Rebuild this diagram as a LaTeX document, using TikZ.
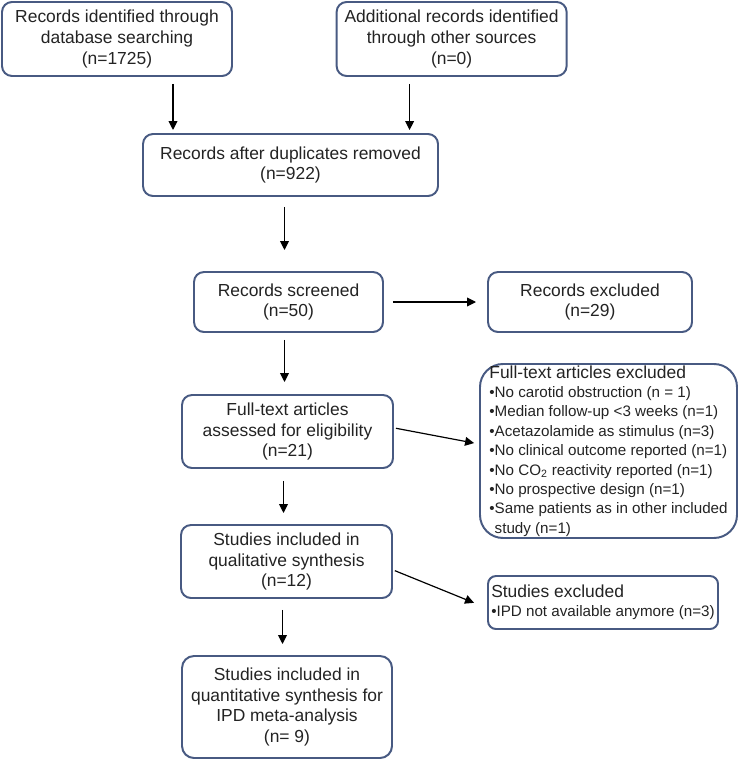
\documentclass[tikz,border=0pt]{standalone}
\usepackage{fontspec}
\setmainfont{Liberation Sans}
\usetikzlibrary{arrows.meta}

\definecolor{boxline}{RGB}{72,90,130}
\definecolor{inktext}{RGB}{35,35,35}

\tikzset{
    box/.style={draw=boxline, line width=1.4pt, rounded corners=0.25cm, align=center, inner sep=0pt, text=inktext, font=\fontsize{12.4}{14.8}\selectfont},
    listbox/.style={box, align=left, font=\fontsize{10.8}{13.8}\selectfont},
}
\tikzset{arr/.style={line width=0.85pt, -{Triangle[length=0.225cm,width=0.22cm]}}}
\newcommand{\listtitle}{\fontsize{12.4}{13.8}\selectfont}

\begin{document}
\begin{tikzpicture}
        \useasboundingbox (0, 0) rectangle (18.5, -19.025);

        \node[box, minimum width=5.75cm, minimum height=1.85cm] (dbrec) at (2.925, -0.975) {Records identified through\\database searching\\(n=1725)};
        \node[box, minimum width=5.75cm, minimum height=1.85cm] (otherrec) at (11.29, -0.975) {Additional records identified\\through other sources\\(n=0)};
        \node[box, minimum width=7.375cm, minimum height=1.55cm] (dedup) at (7.2625, -4.125) {Records after duplicates removed\\(n=922)};
        \node[box, minimum width=4.725cm, minimum height=1.5cm] (screen) at (7.2125, -7.55) {Records screened\\(n=50)};
        \node[box, minimum width=5.1cm, minimum height=1.5cm] (recex) at (14.75, -7.55) {Records excluded\\(n=29)};
        \node[box, minimum width=5.275cm, minimum height=1.825cm] (fulltext) at (7.1875, -10.7875) {Full-text articles\\assessed for eligibility\\(n=21)};
        \node[listbox, rounded corners=0.575cm, minimum width=6.425cm, minimum height=4.35cm] (ftex) at (15.2125, -11.275) {\listtitle Full-text articles excluded\\
            \textbullet No carotid obstruction (n = 1)\\
            \textbullet Median follow-up <3 weeks (n=1)\\
            \textbullet Acetazolamide as stimulus (n=3)\\
            \textbullet No clinical outcome reported (n=1)\\
            \textbullet No CO\textsubscript{2} reactivity reported (n=1)\\
            \textbullet No prospective design (n=1)\\
            \textbullet Same patients as in other included\\
            \hphantom{\textbullet}study (n=1)};
        \node[box, minimum width=5.275cm, minimum height=1.825cm] (qual) at (7.1625, -14.0375) {Studies included in\\qualitative synthesis\\(n=12)};
        \node[listbox, rounded corners=0.2cm, minimum width=5.75cm, minimum height=1.325cm] (stex) at (15.075, -15.0625) {\listtitle Studies excluded\\
            \textbullet IPD not available anymore (n=3)};
        \node[box, rounded corners=0.3cm, minimum width=5.25cm, minimum height=2.55cm] (final) at (7.175, -17.675) {Studies included in\\quantitative synthesis for\\IPD meta-analysis\\(n= 9)};

        \draw[arr, shorten <=0.175cm, shorten >=0.075cm] ([xshift=1.4cm]dbrec.south) -- ([xshift=1.4cm]dbrec.south |- dedup.north);
        \draw[arr, shorten <=0.175cm, shorten >=0.075cm] ([xshift=-1.05cm]otherrec.south) -- ([xshift=-1.05cm]otherrec.south |- dedup.north);
        \draw[arr, shorten <=0.25cm, shorten >=0.525cm] ([xshift=-0.1cm]screen.north |- dedup.south) -- ([xshift=-0.1cm]screen.north);
        \draw[arr, shorten <=0.225cm, shorten >=0.275cm] (screen.east) -- (recex.west);
        \draw[arr, shorten <=0.175cm, shorten >=0.3cm] ([xshift=-0.1cm]screen.south) -- ([xshift=-0.1cm]screen.south |- fulltext.north);
        \draw[arr, shorten <=0.05cm, shorten >=0.125cm] ([yshift=0.09cm]fulltext.east) -- ([yshift=0.175cm]ftex.west);
        \draw[arr, shorten <=0.3cm, shorten >=0.275cm] ([xshift=-0.1cm]fulltext.south) -- ([xshift=-0.1cm]fulltext.south |- qual.north);
        \draw[arr, shorten <=0.05cm, shorten >=0.35cm] ([yshift=-0.21cm]qual.east) -- ([yshift=-0.14cm]stex.west);
        \draw[arr, shorten <=0.275cm, shorten >=0.275cm] ([xshift=-0.1cm]qual.south) -- ([xshift=-0.1cm]qual.south |- final.north);

\end{tikzpicture}
\end{document}
